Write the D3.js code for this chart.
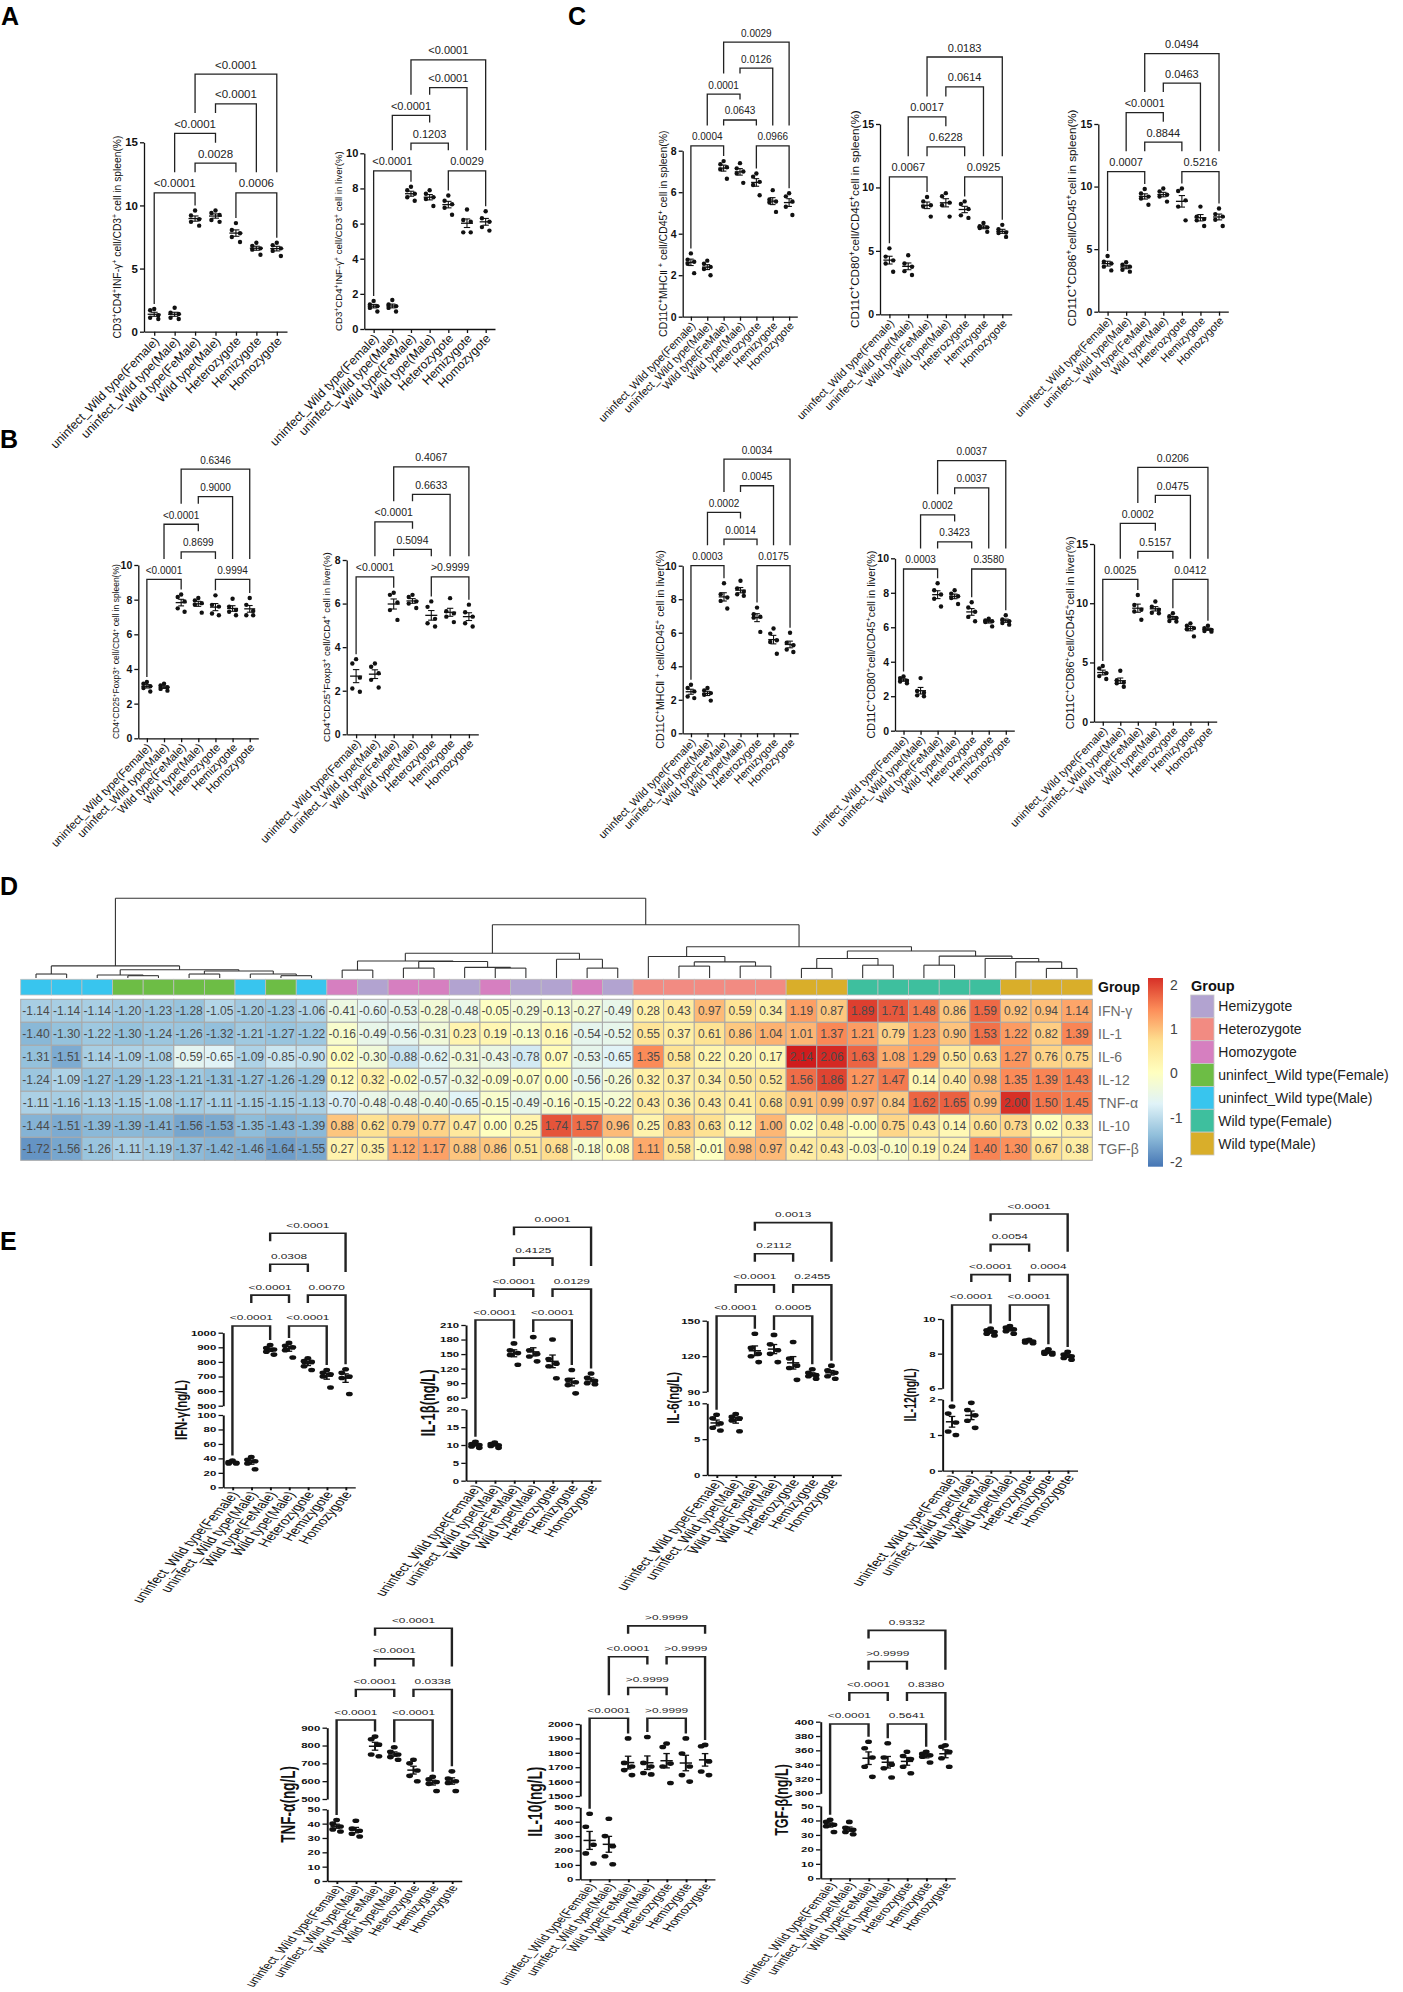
<!DOCTYPE html>
<html lang="en">
<head>
<meta charset="utf-8">
<title>Immune cell and cytokine panels</title>
<script src="https://cdn.jsdelivr.net/npm/d3@7"></script>
<style>
  body { margin: 0; background: #fff; }
  svg { display: block; font-family: "Liberation Sans", Arial, Helvetica, sans-serif; }
  .ax path, .ax line { stroke: #111; stroke-width: 1.3px; }
  .ax text { fill: #111; }
</style>
</head>
<body>
<svg id="fig" width="1403" height="1992"></svg>
<script>
const FONT = '"Liberation Sans", Arial, Helvetica, sans-serif';
const groups = ["uninfect_Wild type(Female)", "uninfect_Wild type(Male)", "Wild type(FeMale)",
  "Wild type(Male)", "Heterozygote", "Hemizygote", "Homozygote"];

// ---- A / B / C : flow cytometry, % of parent (one array per group)
const spleenIfn = [[1.8,1.7,1.3,1.1,1.0],[1.9,1.5,1.4,1.1,1.0],[9.6,9.2,8.9,8.7,8.4],[9.6,9.4,9.25,8.85,8.7],[8.6,8.05,7.8,7.5,7.1],[7.05,6.8,6.6,6.5,6.1],[7.05,6.85,6.6,6.4,6.0]];
const liverIfn = [[1.6,1.4,1.3,1.2,1.0],[1.65,1.4,1.3,1.2,1.0],[8.1,7.9,7.7,7.5,7.3],[7.9,7.7,7.5,7.4,7.0],[7.6,7.3,7.1,6.9,6.5],[6.8,6.2,6.1,5.5,5.5],[6.7,6.3,6.1,5.8,5.6]];
const spleenTreg = [[3.25,3.15,3.0,2.9,2.7],[3.15,3.05,2.95,2.85,2.75],[8.3,8.15,7.9,7.5,7.3],[8.1,7.95,7.8,7.7,7.25],[8.25,7.7,7.6,7.2,7.1],[8.05,7.6,7.4,7.3,7.1],[8.1,7.7,7.35,7.1,7.1]];
const liverTreg = [[3.45,3.25,2.6,2.1,1.95],[3.25,3.1,2.8,2.5,2.15],[6.5,6.4,6.05,5.7,5.25],[6.4,6.3,6.1,6.0,5.8],[6.1,5.85,5.3,5.1,4.95],[6.25,5.65,5.55,5.4,5.15],[5.95,5.6,5.4,5.1,4.95]];
const spleenMhc = [[3.05,2.75,2.65,2.55,2.1],[2.7,2.55,2.4,2.3,2.0],[7.5,7.35,7.2,7.1,6.65],[7.4,7.15,7.0,6.9,6.45],[6.9,6.75,6.5,6.35,5.85],[6.1,5.65,5.55,5.5,5.05],[5.95,5.8,5.55,5.3,4.9]];
const spleenCd80 = [[5.2,4.55,4.25,4.0,3.35],[4.65,4.0,3.75,3.4,3.1],[9.25,8.9,8.6,8.5,7.7],[9.55,9.3,8.8,8.6,7.7],[8.9,8.7,8.3,7.8,7.6],[7.2,6.95,6.85,6.8,6.5],[7.05,6.7,6.45,6.4,6.1]];
const spleenCd86 = [[4.45,4.0,3.85,3.6,3.3],[3.95,3.75,3.6,3.35,3.2],[9.8,9.45,9.2,9.05,8.55],[9.85,9.6,9.35,9.2,8.8],[9.85,9.65,8.9,8.4,7.3],[8.4,7.6,7.4,7.3,6.85],[8.25,7.8,7.6,7.35,6.85]];
const liverMhc = [[2.9,2.7,2.5,2.2,2.1],[2.7,2.55,2.4,2.3,1.95],[8.95,8.3,8.1,7.9,7.45],[9.1,8.65,8.45,8.3,8.2],[7.5,7.1,6.95,6.9,6.05],[6.25,5.95,5.55,5.45,4.75],[6.0,5.4,5.25,5.0,4.85]];
const liverCd80 = [[3.15,3.05,2.9,2.85,2.75],[3.05,2.3,2.2,2.05,2.0],[8.55,8.15,7.9,7.65,7.2],[8.15,7.95,7.8,7.7,7.35],[7.45,7.15,6.9,6.6,6.35],[6.5,6.4,6.35,6.3,6.05],[6.7,6.45,6.35,6.25,6.15]];
const liverCd86 = [[4.7,4.5,4.1,3.85,3.6],[4.3,3.5,3.3,3.25,2.95],[10.7,9.85,9.45,9.3,8.6],[10.15,9.7,9.45,9.2,9.15],[9.15,8.9,8.75,8.5,8.45],[8.3,8.1,7.9,7.8,7.2],[8.1,7.9,7.75,7.65,7.6]];

// comparisons [from, to, level] and their p values
const topPairs = [[0,2,0],[4,6,0],[2,4,1],[1,3,2],[3,5,3],[2,6,4]];
const spleenIfnP = ["<0.0001","0.0006","0.0028","<0.0001","<0.0001","<0.0001"];
const liverIfnP = ["<0.0001","0.0029","0.1203","<0.0001","<0.0001","<0.0001"];
const spleenTregP = ["<0.0001","0.9994","0.8699","<0.0001","0.9000","0.6346"];
const liverTregP = ["<0.0001",">0.9999","0.5094","<0.0001","0.6633","0.4067"];
const spleenMhcP = ["0.0004","0.0966","0.0643","0.0001","0.0126","0.0029"];
const spleenCd80P = ["0.0067","0.0925","0.6228","0.0017","0.0614","0.0183"];
const spleenCd86P = ["0.0007","0.5216","0.8844","<0.0001","0.0463","0.0494"];
const liverMhcP = ["0.0003","0.0175","0.0014","0.0002","0.0045","0.0034"];
const liverCd80P = ["0.0003","0.3580","0.3423","0.0002","0.0037","0.0037"];
const liverCd86P = ["0.0025","0.0412","0.5157","0.0002","0.0475","0.0206"];

// ---- D : heatmap (z-scores), 35 samples
const rowNames = ["IFN-γ","IL-1","IL-6","IL-12","TNF-α","IL-10","TGF-β"];
const hmIfn = [-1.14,-1.14,-1.14,-1.20,-1.23,-1.28,-1.05,-1.20,-1.23,-1.06,-0.41,-0.60,-0.53,-0.28,-0.48,-0.05,-0.29,-0.13,-0.27,-0.49,0.28,0.43,0.97,0.59,0.34,1.19,0.87,1.89,1.71,1.48,0.86,1.59,0.92,0.94,1.14];
const hmIl1 = [-1.40,-1.30,-1.22,-1.30,-1.24,-1.26,-1.32,-1.21,-1.27,-1.22,-0.16,-0.49,-0.56,-0.31,0.23,0.19,-0.13,0.16,-0.54,-0.52,0.55,0.37,0.61,0.86,1.04,1.01,1.37,1.21,0.79,1.23,0.90,1.53,1.22,0.82,1.39];
const hmIl6 = [-1.31,-1.51,-1.14,-1.09,-1.08,-0.59,-0.65,-1.09,-0.85,-0.90,0.02,-0.30,-0.88,-0.62,-0.31,-0.43,-0.78,0.07,-0.53,-0.65,1.35,0.58,0.22,0.20,0.17,2.14,2.06,1.63,1.08,1.29,0.50,0.63,1.27,0.76,0.75];
const hmIl12 = [-1.24,-1.09,-1.27,-1.29,-1.23,-1.21,-1.31,-1.27,-1.26,-1.29,0.12,0.32,-0.02,-0.57,-0.32,-0.09,-0.07,0.00,-0.56,-0.26,0.32,0.37,0.34,0.50,0.52,1.56,1.86,1.27,1.47,0.14,0.40,0.98,1.35,1.39,1.43];
const hmTnf = [-1.11,-1.16,-1.13,-1.15,-1.08,-1.17,-1.11,-1.15,-1.15,-1.13,-0.70,-0.48,-0.48,-0.40,-0.65,-0.15,-0.49,-0.16,-0.15,-0.22,0.43,0.36,0.43,0.41,0.68,0.91,0.99,0.97,0.84,1.62,1.65,0.99,2.00,1.50,1.45];
const hmIl10 = [-1.44,-1.51,-1.39,-1.39,-1.41,-1.56,-1.53,-1.35,-1.43,-1.39,0.88,0.62,0.79,0.77,0.47,0.00,0.25,1.74,1.57,0.96,0.25,0.83,0.63,0.12,1.00,0.02,0.48,-0.00,0.75,0.43,0.14,0.60,0.73,0.02,0.33];
const hmTgf = [-1.72,-1.56,-1.26,-1.11,-1.19,-1.37,-1.42,-1.46,-1.64,-1.55,0.27,0.35,1.12,1.17,0.88,0.86,0.51,0.68,-0.18,0.08,1.11,0.58,-0.01,0.98,0.97,0.42,0.43,-0.03,-0.10,0.19,0.24,1.40,1.30,0.67,0.38];
const legendGroups = ["Hemizygote","Heterozygote","Homozygote","uninfect_Wild type(Female)","uninfect_Wild type(Male)","Wild type(Female)","Wild type(Male)"];
const legendColors = ["#b2a3d0","#f28b82","#d67fc0","#6dbd45","#38c5ee","#3ebf9e","#d9ae2a"];
const colGroup = [4,4,4,3,3,3,3,4,3,4, 2,0,2,2,0,2,0,0,2,0, 1,1,1,1,1, 6,6, 5,5,5,5,5, 6,6,6];
// column dendrogram: [height, left, right], leaves are column indices
const dendro = [10,
  [1.52, [0.50, 0, 1], [1.03, [0.37, 2, [0.29, 3, 4]], [0.87, [0.50, 5, 6], [0.50, 7, [0.29, 8, 9]]]]],
  [6.69,
    [3.10, [2.14, [0.99, 10, 11], [2.07, [1.24, 12, 13], [1.33, 14, [1.24, 15, 16]]]], [2.35, 17, [1.24, 18, 19]]],
    [3.93, [2.69, 20, [2.02, [1.49, 21, 22], [1.49, 23, 24]]],
      [3.38, [2.44, [1.20, 25, 26], [1.61, 27, 28]], [2.75, [1.61, 29, 30], [2.44, 31, [2.02, 32, [1.20, 33, 34]]]]]]]];

// ---- E : serum cytokines (ng/L)
const serumIfn = [[37,35,34,33,33],[42,38,36,33,25],[915,895,885,870,850],[930,910,900,880,830],[825,805,800,770,745],[745,725,715,700,625],[750,725,700,690,580]];
const serumIl1 = [[10.9,10.3,10,9.6,9.2],[10.7,10.3,9.9,9.7,9.2],[172,158,152,148,128],[185,158,150,145,135],[180,140,130,125,100],[117,97,92,86,69],[110,101,95,90,88]];
const serumIl6 = [[8.4,7.9,7.2,6.6,6.2],[8.5,8.1,7.9,7.6,6.1],[139,127,122,120,115],[138,130,125,122,115],[132,118,112,110,100],[109,106,104,103,101],[112,108,106,103,101]];
const serumIl12 = [[1.8,1.6,1.35,1.1,1.0],[1.9,1.7,1.55,1.4,1.2],[9.45,9.35,9.25,9.15,9.05],[9.6,9.5,9.4,9.3,9.15],[8.8,8.75,8.7,8.65,8.6],[8.25,8.1,8.05,8.0,7.95],[8.1,7.95,7.85,7.75,7.65]];
const serumTnf = [[42.5,40,38,36,34.5],[42,36.5,35,33,31],[850,835,805,750,740],[790,765,750,735,720],[720,700,660,630,600],[625,610,595,585,545],[655,615,600,590,545]];
const serumIl10 = [[455,365,240,180,110],[420,300,230,160,105],[1900,1730,1705,1680,1645],[1910,1730,1705,1660,1650],[1865,1840,1725,1705,1590],[1900,1795,1705,1645,1600],[1855,1845,1740,1670,1645]];
const serumTgf = [[40.5,39,37,36,32],[39,35,33.5,32,30.5],[372,363,350,337,323],[370,350,340,335,322],[358,352,348,337,328],[358,355,353,351,343],[367,365,358,349,337]];
const serumPairs = [[0,2,0],[3,5,0],[1,3,1],[4,6,1],[2,4,2],[2,6,3]];
const il10Pairs = [[0,2,0],[3,5,0],[2,4,1],[1,3,2],[4,6,2],[2,6,3]];
const serumIfnP = ["<0.0001","<0.0001","<0.0001","0.0070","0.0308","<0.0001"];
const serumIl1P = ["<0.0001","<0.0001","<0.0001","0.0129","0.4125","0.0001"];
const serumIl6P = ["<0.0001","0.0005","<0.0001","0.2455","0.2112","0.0013"];
const serumIl12P = ["<0.0001","<0.0001","<0.0001","0.0004","0.0054","<0.0001"];
const serumTnfP = ["<0.0001","<0.0001","<0.0001","0.0338","<0.0001","<0.0001"];
const serumIl10P = ["<0.0001",">0.9999",">0.9999","<0.0001",">0.9999",">0.9999"];
const serumTgfP = ["<0.0001","0.5641","<0.0001","0.8380",">0.9999","0.9332"];

// ---------------------------------------------------------------- layout
const topLayout = [
  {v: spleenIfn, p: spleenIfnP, t: "CD3^+CD4^+INF-γ^+ cell/CD3^+ cell in spleen(%)", x0: 144, x1: 287, yB: 331.7, yT: 142.3, max: 15, ticks: [0,5,10,15], base: 11.0, step: 2.35, fs: 11.5, tk: 11.5, xl: 12.3, tl: 203, tdx: -27},
  {v: liverIfn, p: liverIfnP, t: "CD3^+CD4^+INF-γ^+ cell/CD3^+ cell in liver(%)", x0: 364.3, x1: 495, yB: 329, yT: 153.3, max: 10, ticks: [0,2,4,6,8,10], base: 9.0, step: 1.58, fs: 11, tk: 11, xl: 12.3, tl: 180, tdx: -26},
  {v: spleenMhc, p: spleenMhcP, t: "CD11C^+MHCⅡ ^+ cell/CD45^+ cell in spleen(%)", x0: 682.7, x1: 797.3, yB: 316.7, yT: 150.7, max: 8, ticks: [0,2,4,6,8], base: 8.23, step: 1.25, fs: 10, tk: 10.5, xl: 11, tl: 207, tdx: -19},
  {v: spleenCd80, p: spleenCd80P, t: "CD11C^+CD80^+cell/CD45^+cell in spleen(%)", x0: 880, x1: 1011.7, yB: 314.3, yT: 124, max: 15, ticks: [0,5,10,15], base: 10.84, step: 2.36, fs: 11, tk: 10.5, xl: 11, tl: 218, tdx: -25},
  {v: spleenCd86, p: spleenCd86P, t: "CD11C^+CD86^+cell/CD45^+cell in spleen(%)", x0: 1098.3, x1: 1228.3, yB: 311.7, yT: 124, max: 15, ticks: [0,5,10,15], base: 11.19, step: 2.36, fs: 11, tk: 10.5, xl: 11, tl: 217, tdx: -25.6},
  {v: spleenTreg, p: spleenTregP, t: "CD4^+CD25^+Foxp3^+ cell/CD4^+ cell in spleen(%)", x0: 138.3, x1: 258.3, yB: 738.3, yT: 565, max: 10, ticks: [0,2,4,6,8,10], base: 9.17, step: 1.59, fs: 10, tk: 10.5, xl: 11.4, tl: 175, tdx: -23},
  {v: liverTreg, p: liverTregP, t: "CD4^+CD25^+Foxp3^+ cell/CD4^+ cell in liver(%)", x0: 346.7, x1: 478.3, yB: 734.3, yT: 560, max: 8, ticks: [0,2,4,6,8], base: 7.23, step: 1.26, fs: 10.5, tk: 10.5, xl: 11.4, tl: 190, tdx: -20.7},
  {v: liverMhc, p: liverMhcP, t: "CD11C^+MHCⅡ ^+ cell/CD45^+ cell in liver(%)", x0: 682.7, x1: 798.3, yB: 733.3, yT: 565.7, max: 10, ticks: [0,2,4,6,8,10], base: 10.0, step: 1.59, fs: 10, tk: 10.5, xl: 11, tl: 199, tdx: -22.7},
  {v: liverCd80, p: liverCd80P, t: "CD11C^+CD80^+cell/CD45^+cell in liver(%)", x0: 895, x1: 1014.3, yB: 730.7, yT: 558.3, max: 10, ticks: [0,2,4,6,8,10], base: 9.38, step: 1.57, fs: 10, tk: 10.5, xl: 11, tl: 188, tdx: -23.3},
  {v: liverCd86, p: liverCd86P, t: "CD11C^+CD86^+cell/CD45^+cell in liver(%)", x0: 1094, x1: 1216.7, yB: 721.7, yT: 544, max: 15, ticks: [0,5,10,15], base: 12.02, step: 2.36, fs: 10.5, tk: 10.5, xl: 11, tl: 193, tdx: -24}
];

const serumLayout = [
  {v: serumIfn, p: serumIfnP, pairs: serumPairs, t: "IFN-γ(ng/L)", x0: 223, x1: 355, yB: 1487.3, low: [0,100], lowTop: 1415, up: [500,1000], upB: 1405.7, upT: 1332.7, lowTicks: [0,20,40,60,80,100], upTicks: [500,600,700,800,900,1000], base: 1045.9, step: 211.6, tl: 60, tdx: -38.6, xl: 10.5},
  {v: serumIl1, p: serumIl1P, pairs: serumPairs, t: "IL-1β(ng/L)", x0: 465.8, x1: 600.7, yB: 1480.7, low: [0,20], lowTop: 1409.3, up: [60,210], upB: 1397.7, upT: 1325, lowTicks: [0,5,10,15,20], upTicks: [60,90,120,150,180,210], base: 220.3, step: 63.8, tl: 66.7, tdx: -34, xl: 10.5},
  {v: serumIl6, p: serumIl6P, pairs: serumPairs, t: "IL-6(ng/L)", x0: 707, x1: 841, yB: 1475, low: [0,10], lowTop: 1403.3, up: [90,150], upB: 1391.7, upT: 1320.7, lowTicks: [0,5,10], upTicks: [90,120,150], base: 154, step: 26.3, tl: 51.7, tdx: -31, xl: 10.5},
  {v: serumIl12, p: serumIl12P, pairs: serumPairs, t: "IL-12(ng/L)", x0: 942.4, x1: 1077.3, yB: 1470.7, low: [0,2], lowTop: 1399.3, up: [6,10], upB: 1388.3, upT: 1319, lowTicks: [0,1,2], upTicks: [6,8,10], base: 10.81, step: 1.75, tl: 53.3, tdx: -29.6, xl: 10.5},
  {v: serumTnf, p: serumTnfP, pairs: serumPairs, t: "TNF-α(ng/L)", x0: 327, x1: 461.5, yB: 1881, low: [0,50], lowTop: 1809.3, up: [500,900], upB: 1799, upT: 1727.7, lowTicks: [0,10,20,30,40,50], upTicks: [500,600,700,800,900], base: 943, step: 171.6, tl: 76.7, tdx: -35.3, xl: 9.6},
  {v: serumIl10, p: serumIl10P, pairs: il10Pairs, t: "IL-10(ng/L)", x0: 580, x1: 714.7, yB: 1879.3, low: [0,500], lowTop: 1807.3, up: [1500,2000], upB: 1796, upT: 1724, lowTicks: [0,100,200,300,400,500], upTicks: [1500,1600,1700,1800,1900,2000], base: 2039.6, step: 213.9, tl: 70, tdx: -41.5, xl: 9.6},
  {v: serumTgf, p: serumTgfP, pairs: serumPairs, t: "TGF-β(ng/L)", x0: 820.5, x1: 955, yB: 1878.3, low: [0,50], lowTop: 1806, up: [300,400], upB: 1793.3, upT: 1721.7, lowTicks: [0,10,20,30,40,50], upTicks: [300,320,340,360,380,400], base: 396.8, step: 43.6, tl: 71.7, tdx: -35.2, xl: 9.6}
];

const jitter = [0, -0.2, 0.2, -0.2, 0.2];
const svg = d3.select("#fig");
svg.append("rect").attr("width", 1403).attr("height", 1992).attr("fill", "#fff");

function letter(t, x, y) {
  svg.append("text").attr("x", x).attr("y", y).attr("font-size", 25)
    .attr("font-weight", "bold").attr("fill", "#000").text(t);
}

// text with ^x superscripts, rotated, stretched to a given length
function axisTitle(g, str, x, y, target, fs, bold) {
  const t = g.append("text").attr("transform", `translate(${x},${y}) rotate(-90)`)
    .attr("text-anchor", "middle").attr("font-size", fs).attr("fill", "#111")
    .attr("font-weight", bold ? "bold" : "normal");
  str.split(/(\^.)/).forEach(part => {
    if (!part) return;
    if (part[0] === "^") t.append("tspan").attr("baseline-shift", "super").attr("font-size", "70%").text(part[1]);
    else t.append("tspan").text(part);
  });
  const len = t.node().getComputedTextLength();
  if (len > 0) t.attr("font-size", fs * target / len);
  return t;
}

function brackets(g, o) {
  const placed = [];
  o.pairs.forEach(([a, b, lev], k) => {
    const by = o.barY(lev);
    const legEnd = c => {
      let e = o.dataTop(c) - 4;
      placed.forEach(p => { if (p.lev < lev && p.a <= c && c <= p.b) e = Math.min(e, p.by - o.gap); });
      return e;
    };
    const xa = o.x(a), xb = o.x(b);
    g.append("path").attr("d", `M${xa},${legEnd(a)}V${by}H${xb}V${legEnd(b)}`)
      .attr("fill", "none").attr("stroke", "#222").attr("stroke-width", o.sw);
    g.append("text").attr("x", (xa + xb) / 2).attr("y", by - 5.5).attr("text-anchor", "middle")
      .attr("font-size", o.fs).attr("fill", "#222").text(o.labels[k]);
    placed.push({a, b, lev, by});
  });
}

function scatterGroup(g, vals, cx, step, yOf, r, lw) {
  const m = d3.mean(vals), sem = d3.deviation(vals) / Math.sqrt(vals.length);
  vals.forEach((v, k) => g.append("circle").attr("cx", cx + jitter[k % jitter.length] * step)
    .attr("cy", yOf(v)).attr("r", r).attr("fill", "#111"));
  const seg = (x1, y1, x2, y2, w) => g.append("line").attr("x1", x1).attr("y1", y1)
    .attr("x2", x2).attr("y2", y2).attr("stroke", "#111").attr("stroke-width", w);
  seg(cx - 0.32 * step, yOf(m), cx + 0.32 * step, yOf(m), lw + 0.2);
  seg(cx, yOf(m - sem), cx, yOf(m + sem), lw);
  seg(cx - 0.17 * step, yOf(m - sem), cx + 0.17 * step, yOf(m - sem), lw);
  seg(cx - 0.17 * step, yOf(m + sem), cx + 0.17 * step, yOf(m + sem), lw);
}

function styleAxis(sel) {
  sel.attr("class", "ax").attr("font-family", FONT);
}

// ---------------------------------------------------------------- A, B, C
function drawTop(c) {
  const g = svg.append("g");
  const x = d3.scalePoint().domain(d3.range(7)).range([c.x0, c.x1]).padding(0.5);
  const y = d3.scaleLinear().domain([0, c.max]).range([c.yB, c.yT]);
  const ya = g.append("g").attr("transform", `translate(${c.x0},0)`)
    .call(d3.axisLeft(y).tickValues(c.ticks).tickSize(4).tickSizeOuter(0).tickPadding(2));
  styleAxis(ya);
  ya.selectAll("text").attr("font-size", c.tk).attr("font-weight", "bold");
  const xa = g.append("g").attr("transform", `translate(0,${c.yB})`)
    .call(d3.axisBottom(x).tickSize(4).tickSizeOuter(0).tickFormat(i => groups[i]));
  styleAxis(xa);
  xa.selectAll("text").attr("x", 0).attr("y", 0).attr("dy", "0.35em")
    .attr("transform", "translate(2,7) rotate(-46)").attr("text-anchor", "end").attr("font-size", c.xl);
  axisTitle(g, c.t, c.x0 + c.tdx + 3.5, (c.yB + c.yT) / 2, c.tl, 10, false);
  c.v.forEach((vals, i) => scatterGroup(g, vals, x(i), x.step(), y, 2.2, 1.1));
  brackets(g, {
    pairs: topPairs, labels: c.p, x: x, gap: 20.5, fs: c.fs, sw: 1.3,
    barY: lev => y(c.base + lev * c.step),
    dataTop: i => y(d3.max(c.v[i])) - 1
  });
}
topLayout.forEach(drawTop);

// ---------------------------------------------------------------- E
function drawSerum(c) {
  const sx = 1.5;
  const g = svg.append("g").attr("transform", `translate(${c.x0},0) scale(${sx},1)`);
  const w = (c.x1 - c.x0) / sx;
  const x = d3.scalePoint().domain(d3.range(7)).range([0, w]).padding(0.5);
  const yLow = d3.scaleLinear().domain(c.low).range([c.yB, c.lowTop]);
  const yUp = d3.scaleLinear().domain(c.up).range([c.upB, c.upT]);
  const yOf = i => (i < 2 ? yLow : yUp);
  [[yLow, c.lowTicks], [yUp, c.upTicks]].forEach(([sc, tv]) => {
    const a = g.append("g").call(d3.axisLeft(sc).tickValues(tv).tickFormat(d3.format("d"))
      .tickSize(3).tickSizeOuter(0).tickPadding(1.5));
    styleAxis(a);
    a.selectAll("text").attr("font-size", 7.6).attr("font-weight", "bold");
  });
  const xa = g.append("g").attr("transform", `translate(0,${c.yB})`)
    .call(d3.axisBottom(x).tickSize(3).tickSizeOuter(0).tickFormat(i => groups[i]));
  styleAxis(xa);
  xa.selectAll("text").attr("x", 0).attr("y", 0).attr("dy", "0.35em")
    .attr("transform", "translate(1,5) rotate(-59)").attr("text-anchor", "end").attr("font-size", c.xl);
  axisTitle(g, c.t, (c.tdx + 3) / sx, (c.yB + c.upT) / 2, c.tl, 9, true);
  c.v.forEach((vals, i) => scatterGroup(g, vals, x(i), x.step(), yOf(i), 2.3, 1.3));
  brackets(g, {
    pairs: c.pairs, labels: c.p, x: x, gap: 23, fs: 7.9, sw: 1.6,
    barY: lev => yUp(c.base + lev * c.step),
    dataTop: i => yOf(i)(d3.max(c.v[i])) - 1
  });
}
serumLayout.forEach(drawSerum);

// ---------------------------------------------------------------- D heatmap
(function drawHeatmap() {
  const rows = [hmIfn, hmIl1, hmIl6, hmIl12, hmTnf, hmIl10, hmTgf];
  const g = svg.append("g");
  const hx = d3.scaleBand().domain(d3.range(35)).range([20.7, 1092.3]);
  const hy = d3.scaleBand().domain(rowNames).range([999.3, 1160.3]);
  const color = d3.scaleLinear().domain([-2, -1.333, -0.667, 0, 0.667, 1.333, 2])
    .range(["#4575b4", "#91bfdb", "#e0f3f8", "#ffffbf", "#fee090", "#fc8d59", "#d73027"]);
  const fmt = v => (v < 0 || Object.is(v, -0) ? "-" : "") + Math.abs(v).toFixed(2);

  rows.forEach((vals, r) => {
    vals.forEach((v, ci) => {
      g.append("rect").attr("x", hx(ci)).attr("y", hy(rowNames[r]))
        .attr("width", hx.bandwidth()).attr("height", hy.bandwidth())
        .attr("fill", color(v)).attr("stroke", "#a9a9a9").attr("stroke-width", 1);
      g.append("text").attr("x", hx(ci) + hx.bandwidth() / 2).attr("y", hy(rowNames[r]) + hy.bandwidth() / 2)
        .attr("dy", "0.36em").attr("text-anchor", "middle").attr("font-size", 12)
        .attr("fill", "#4a4a4a").text(fmt(v));
    });
    g.append("text").attr("x", 1098).attr("y", hy(rowNames[r]) + hy.bandwidth() / 2).attr("dy", "0.36em")
      .attr("font-size", 14).attr("fill", "#6b6b6b").text(rowNames[r]);
  });

  // annotation bar
  colGroup.forEach((gi, ci) => {
    g.append("rect").attr("x", hx(ci)).attr("y", 979.3).attr("width", hx.bandwidth()).attr("height", 15.7)
      .attr("fill", legendColors[gi]).attr("stroke", "#bdbdbd").attr("stroke-width", 0.8);
  });
  g.append("text").attr("x", 1098).attr("y", 987.2).attr("dy", "0.36em").attr("font-size", 14)
    .attr("font-weight", "bold").attr("fill", "#111").text("Group");

  // dendrogram
  const dh = d3.scaleLinear().domain([0, 10]).range([978, 898.3]);
  const line = (x1, y1, x2, y2) => g.append("line").attr("x1", x1).attr("y1", y1).attr("x2", x2).attr("y2", y2)
    .attr("stroke", "#333").attr("stroke-width", 1.1);
  function node(n) {
    if (typeof n === "number") return {x: hx(n) + hx.bandwidth() / 2, h: 0};
    const l = node(n[1]), r = node(n[2]);
    line(l.x, dh(l.h), l.x, dh(n[0]));
    line(r.x, dh(r.h), r.x, dh(n[0]));
    line(l.x, dh(n[0]), r.x, dh(n[0]));
    return {x: (l.x + r.x) / 2, h: n[0]};
  }
  node(dendro);

  // colour key
  const grad = svg.append("defs").append("linearGradient").attr("id", "hmkey")
    .attr("x1", 0).attr("y1", 1).attr("x2", 0).attr("y2", 0);
  color.domain().forEach((d, i) => grad.append("stop").attr("offset", i / 6).attr("stop-color", color.range()[i]));
  const ky = d3.scaleLinear().domain([-2, 2]).range([1161.7, 985]);
  g.append("rect").attr("x", 1148).attr("y", ky(2) - 7).attr("width", 15).attr("height", ky(-2) - ky(2) + 12)
    .attr("fill", "url(#hmkey)");
  [2, 1, 0, -1, -2].forEach(v => g.append("text").attr("x", 1170).attr("y", ky(v)).attr("dy", "0.36em")
    .attr("font-size", 14).attr("fill", "#444").text(v < 0 ? "-" + Math.abs(v) : v));

  // group legend
  g.append("text").attr("x", 1191).attr("y", 991).attr("font-size", 14.5).attr("font-weight", "bold")
    .attr("fill", "#111").text("Group");
  const ly = d3.scaleBand().domain(legendGroups).range([995, 1155]);
  legendGroups.forEach((name, i) => {
    g.append("rect").attr("x", 1190.7).attr("y", ly(name)).attr("width", 23.3).attr("height", ly.bandwidth())
      .attr("fill", legendColors[i]).attr("stroke", "#c8c8c8").attr("stroke-width", 0.8);
    g.append("text").attr("x", 1218.3).attr("y", ly(name) + ly.bandwidth() / 2).attr("dy", "0.36em")
      .attr("font-size", 14).attr("fill", "#222").text(name);
  });
})();

letter("A", 1, 25);
letter("C", 568, 25);
letter("B", 0, 448);
letter("D", 0, 895);
letter("E", 0, 1250);
</script>
</body>
</html>
